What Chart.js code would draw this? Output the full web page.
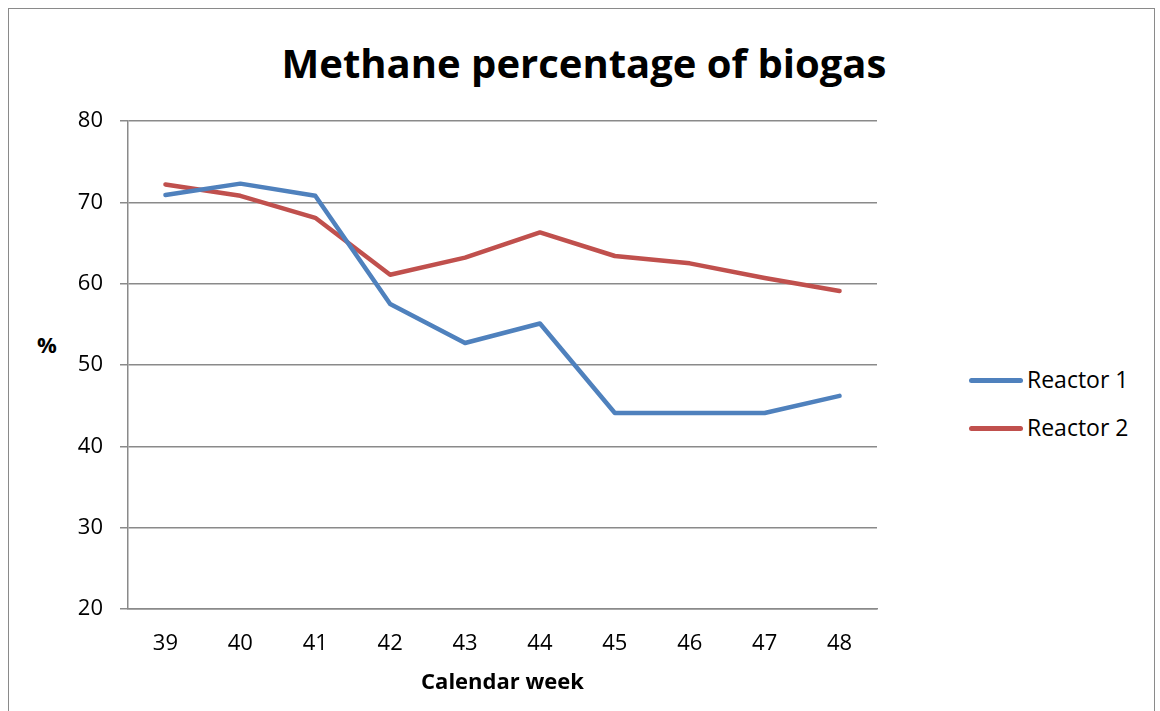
<!DOCTYPE html>
<html>
<head>
<meta charset="utf-8">
<script src="https://cdn.jsdelivr.net/npm/chart.js@4.4.0/dist/chart.umd.min.js"></script>
<style>
    html, body { margin: 0; padding: 0; background: #fff; }
    body { width: 1160px; height: 711px; position: relative; overflow: hidden; font-family: 'Open Sans', sans-serif; }
    #frame { position: absolute; left: 8px; top: 8px; width: 1147px; height: 730px; border: 1.5px solid #8a8a8a; box-sizing: border-box; }
    #chartTitle { position: absolute; left: 0; top: 35px; width: 1168px; text-align: center; font-weight: bold; font-size: 40px; line-height: 56px; color: #000; }
    #yTitle { position: absolute; left: 30px; top: 330px; width: 34px; text-align: center; font-weight: bold; font-size: 22px; line-height: 28px; color: #000; }
    #legend { position: absolute; left: 966px; top: 0; }
    .item { position: absolute; left: 0; height: 30px; white-space: nowrap; font-size: 23px; line-height: 30px; color: #000; }
    .item span.swatch { position: absolute; left: 3px; top: 12.5px; width: 54px; height: 5px; border-radius: 3px; }
    .item span.txt { position: absolute; left: 61px; top: -1px; }
    canvas { position: absolute; left: 0; top: 0; }
</style>
</head>
<body>
<div id="frame"></div>
<div id="chartTitle">Methane percentage of biogas</div>
<div id="yTitle">%</div>
<div id="legend"></div>
<canvas id="methaneChart" width="1160" height="711"></canvas>
<script>
document.addEventListener('DOMContentLoaded', function() {
    // Dados do gráfico
    const weeks = ['39', '40', '41', '42', '43', '44', '45', '46', '47', '48'];
    const reactor1 = [70.9, 72.3, 70.8, 57.5, 52.7, 55.1, 44.1, 44.1, 44.1, 46.2];
    const reactor2 = [72.2, 70.8, 68.1, 61.1, 63.2, 66.3, 63.4, 62.5, 60.7, 59.1];
    const yTicks = [20, 30, 40, 50, 60, 70, 80];

    const seriesNames = ['Reactor 1', 'Reactor 2'];
    const seriesColors = ['#4f81bd', '#c0504d'];
    const legendY = [380, 428];

    // Legenda em HTML
    const legend = document.getElementById('legend');
    seriesNames.forEach(function(name, i) {
        const item = document.createElement('div');
        item.className = 'item';
        item.style.top = (legendY[i] - 15) + 'px';
        item.innerHTML = '<span class="swatch" style="background:' + seriesColors[i] + '"></span><span class="txt">' + name + '</span>';
        legend.appendChild(item);
    });

    const ctx = document.getElementById('methaneChart').getContext('2d');
    new Chart(ctx, {
        type: 'line',
        data: {
            labels: weeks,
            datasets: [{
                label: seriesNames[0],
                data: reactor1,
                borderColor: seriesColors[0],
                backgroundColor: seriesColors[0],
                borderWidth: 4.5,
                pointRadius: 0,
                tension: 0,
                borderCapStyle: 'round',
                borderJoinStyle: 'round',
                fill: false
            }, {
                label: seriesNames[1],
                data: reactor2,
                borderColor: seriesColors[1],
                backgroundColor: seriesColors[1],
                borderWidth: 4.5,
                pointRadius: 0,
                tension: 0,
                borderCapStyle: 'round',
                borderJoinStyle: 'round',
                fill: false
            }]
        },
        options: {
            responsive: false,
            animation: false,
            layout: { padding: { top: 121, right: 283, bottom: 0, left: 0 } },
            plugins: {
                legend: { display: false },
                title: { display: false },
                tooltip: { enabled: false }
            },
            scales: {
                x: {
                    offset: true,
                    grid: { display: false, drawTicks: false },
                    border: { display: true, color: '#8a8a8a', width: 1.5 },
                    ticks: { color: '#000', font: { family: 'Open Sans', size: 22 }, padding: 22, maxRotation: 0 },
                    title: {
                        display: true,
                        text: 'Calendar week',
                        color: '#000',
                        font: { family: 'Open Sans', size: 22, weight: 'bold' },
                        padding: { top: 0, bottom: 15 }
                    },
                    afterFit: function(scale) { scale.height = 102; }
                },
                y: {
                    min: 20,
                    max: 80,
                    afterBuildTicks: function(scale) {
                        scale.ticks = yTicks.map(function(v) { return { value: v }; });
                    },
                    grid: { color: '#8a8a8a', lineWidth: 1.5, tickLength: 8, drawTicks: true },
                    border: { display: true, color: '#8a8a8a', width: 1.5 },
                    ticks: { color: '#000', font: { family: 'Open Sans', size: 22 }, padding: 17 },
                    afterFit: function(scale) { scale.width = 128; }
                }
            }
        }
    });
});
</script>
</body>
</html>
